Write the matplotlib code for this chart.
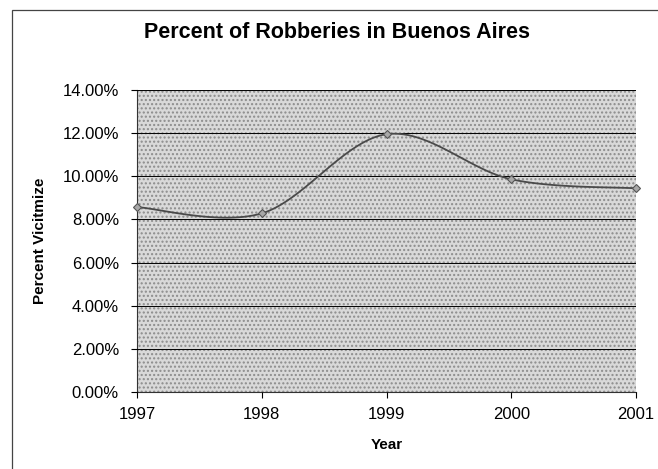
import numpy as np
import matplotlib
matplotlib.use("Agg")
import matplotlib.pyplot as plt
from matplotlib.patches import Rectangle
from matplotlib.ticker import FuncFormatter

plt.rcParams['font.family'] = ['Liberation Sans', 'DejaVu Sans']

years = [1997, 1998, 1999, 2000, 2001]
robbery_pct = [8.57, 8.28, 11.95, 9.86, 9.44]
yticks = [0, 2, 4, 6, 8, 10, 12, 14]


def smooth(x, y, n=30):
    # excel style smoothing: bezier segments with catmull-rom tangents
    x = np.asarray(x, float)
    y = np.asarray(y, float)
    px, py = [], []
    for i in range(len(x) - 1):
        x0, y0 = (x[i - 1], y[i - 1]) if i > 0 else (x[i], y[i])
        x3, y3 = (x[i + 2], y[i + 2]) if i + 2 < len(x) else (x[i + 1], y[i + 1])
        c1x = x[i] + (x[i + 1] - x0) / 6
        c1y = y[i] + (y[i + 1] - y0) / 6
        c2x = x[i + 1] - (x3 - x[i]) / 6
        c2y = y[i + 1] - (y3 - y[i]) / 6
        t = np.linspace(0, 1, n)
        px.extend((1-t)**3*x[i] + 3*(1-t)**2*t*c1x + 3*(1-t)*t**2*c2x + t**3*x[i+1])
        py.extend((1-t)**3*y[i] + 3*(1-t)**2*t*c1y + 3*(1-t)*t**2*c2y + t**3*y[i+1])
    return px, py


fig = plt.figure(figsize=(6.58, 4.69), dpi=100)
fig.patch.set_facecolor('white')
# chart border: only left and top edges fall inside the picture
fig.patches.append(Rectangle((12/658, -0.05), 1.0, 1.05 - 10/469, transform=fig.transFigure,
                             fill=False, edgecolor='#444444', linewidth=0.9))

ax = fig.add_axes([137/658, 1 - 392/469, 499/658, 302/469])
ax.set_facecolor('#d9d9d9')
ax.add_patch(Rectangle((0, 0), 1, 1, transform=ax.transAxes, fill=False, hatch='....',
                       edgecolor='#8c8c8c', linewidth=0, zorder=0.5))

sx, sy = smooth(years, robbery_pct)
ax.plot(sx, sy, color='#4a4a4a', linewidth=1.3, zorder=3)
ax.plot(years, robbery_pct, linestyle='none', marker='D', markersize=4.5,
        markerfacecolor='#a8a8a8', markeredgecolor='#555555', markeredgewidth=0.8, zorder=4, clip_on=False)

ax.set_xlim(1997, 2001)
ax.set_ylim(0, 14)
ax.set_xticks(years)
ax.set_yticks(yticks)
ax.yaxis.set_major_formatter(FuncFormatter(lambda v, p: '%.2f%%' % v))
ax.grid(axis='y', color='black', linewidth=0.7)
ax.set_axisbelow(False)
for s in ['top', 'right']:
    ax.spines[s].set_visible(False)
for s in ['left', 'bottom']:
    ax.spines[s].set_color('#333333')
    ax.spines[s].set_linewidth(0.8)
ax.tick_params(axis='both', labelsize=12, length=4, width=0.8, direction='out')
ax.tick_params(axis='y', pad=9)
ax.tick_params(axis='x', pad=7)

ax.set_xlabel('Year', fontsize=11, fontweight='bold', labelpad=11)
fig.text(40/658, 1 - 241/469, 'Percent Vicitmize', rotation=90, fontsize=11, fontweight='bold',
         ha='center', va='center')
fig.text(337/658, 1 - 33/469, 'Percent of Robberies in Buenos Aires', fontsize=15.5, fontweight='bold',
         ha='center', va='center')

fig.savefig('out.png', dpi=100)
